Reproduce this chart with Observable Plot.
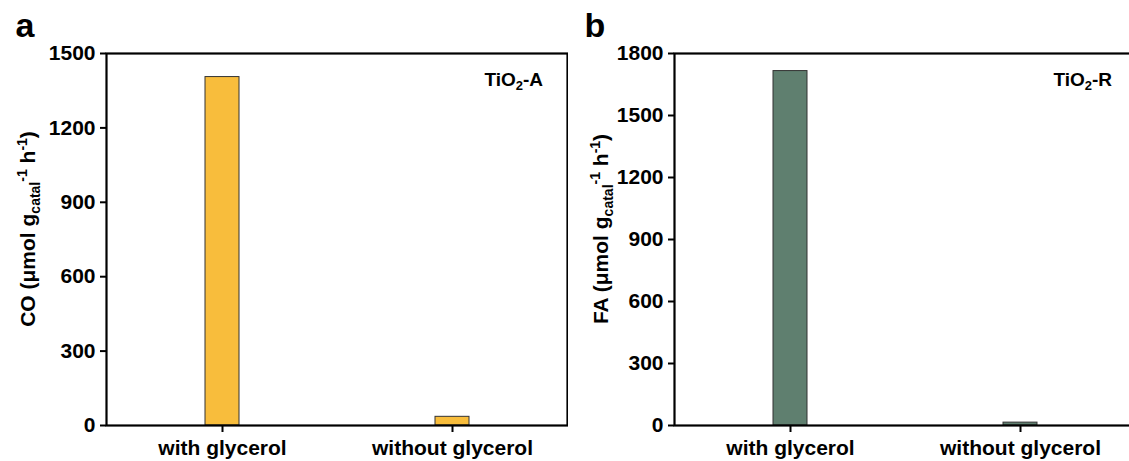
<!DOCTYPE html>
<html><head><meta charset="utf-8">
<script src="https://cdn.jsdelivr.net/npm/d3@7"></script>
<script src="https://cdn.jsdelivr.net/npm/@observablehq/plot@0.6"></script>
<style>
html,body{margin:0;padding:0;background:#fff;overflow:hidden;width:1129px;height:461px}
#wrap{position:relative;width:1129px;height:461px;overflow:hidden;background:#fff}
.panel{position:absolute;top:0}
</style></head><body><div id="wrap"></div>
<script>
const categories = ["with glycerol", "without glycerol"];
const coValues = [1405, 35];
const faValues = [1715, 14];
const coTicks = [0, 300, 600, 900, 1200, 1500];
const faTicks = [0, 300, 600, 900, 1200, 1500, 1800];
const panelLetters = ["a", "b"];
const sampleNames = [["TiO", "2", "-A"], ["TiO", "2", "-R"]];
const yLabelPrefixes = ["CO", "FA"];
const barColors = ["#F8BD3C", "#5F7F6F"];

const FONT = "'Liberation Sans', Arial, Helvetica, sans-serif";

function makePanel(values, ticks, color, letter, sample, prefix, opts) {
  const data = categories.map((c, i) => ({cat: c, value: values[i]}));
  const W = 580;
  const plot = Plot.plot({
    width: W,
    height: 461,
    marginLeft: 106,
    marginRight: W - 567,
    marginTop: 53,
    marginBottom: 36,
    style: {fontFamily: FONT, fontSize: "21px", fontWeight: "bold", background: "white", color: "black"},
    x: {type: "band", domain: categories, padding: 0},
    y: {domain: [0, ticks[ticks.length - 1]]},
    marks: [
      Plot.barY(data, {x: "cat", y: "value", fill: color, stroke: "#333", strokeWidth: 1, insetLeft: 98, insetRight: 98}),
      Plot.axisY({ticks: ticks, tickFormat: d => String(d), tickSize: 6, tickPadding: 5, strokeWidth: 2, label: null, fontSize: 21, fontWeight: "bold"}),
      Plot.axisX({tickSize: 7, tickPadding: 8, strokeWidth: 2, label: null, fontSize: 21, fontWeight: "bold"}),
      Plot.frame({stroke: "black", strokeWidth: 2.2})
    ]
  });
  const svg = d3.select(plot);
  svg.append("text").attr("x", opts.letterX).attr("y", 37)
    .attr("font-family", FONT).attr("font-weight", "bold").attr("font-size", 34)
    .attr("fill", "black").text(letter);
  const yl = svg.append("text")
    .attr("transform", `translate(${opts.labelX},229) rotate(-90)`)
    .attr("text-anchor", "middle")
    .attr("font-family", FONT).attr("font-weight", "bold").attr("font-size", 21).attr("fill", "black");
  yl.append("tspan").text(prefix + " (\u03bcmol g");
  yl.append("tspan").attr("font-size", 14).attr("dy", 5).text("catal");
  yl.append("tspan").attr("font-size", 14).attr("dy", -13).text("-1");
  yl.append("tspan").attr("dy", 8).text(" h");
  yl.append("tspan").attr("font-size", 14).attr("dy", -8).text("-1");
  yl.append("tspan").attr("dy", 8).text(")");
  const sn = svg.append("text").attr("x", opts.sampleX).attr("y", 86)
    .attr("text-anchor", "end")
    .attr("font-family", FONT).attr("font-weight", "bold").attr("font-size", 19).attr("fill", "black");
  sn.append("tspan").text(sample[0]);
  sn.append("tspan").attr("font-size", 13).attr("dy", 4).text(sample[1]);
  sn.append("tspan").attr("dy", -4).text(sample[2]);
  plot.classList.add("panel");
  plot.style.left = opts.left + "px";
  return plot;
}

const wrap = document.getElementById("wrap");
wrap.appendChild(makePanel(coValues, coTicks, barColors[0], panelLetters[0], sampleNames[0], yLabelPrefixes[0],
  {left: 0, letterX: 25, labelX: 35, sampleX: 543}));
wrap.appendChild(makePanel(faValues, faTicks, barColors[1], panelLetters[1], sampleNames[1], yLabelPrefixes[1],
  {left: 568, letterX: 27, labelX: 40, sampleX: 544}));
</script>
</body></html>
